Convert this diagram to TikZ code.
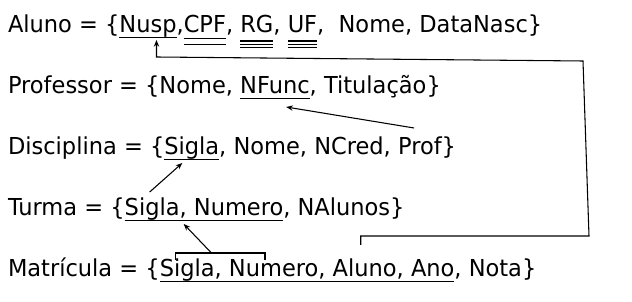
\documentclass[tikz,border=0pt]{standalone}
\usepackage{fontspec}
\setmainfont{DejaVu Sans}[FakeStretch=0.965]
\usetikzlibrary{arrows.meta,calc,positioning}

\begin{document}
\begin{tikzpicture}[
    x=0.75pt, y=-0.75pt,             % 1 unit = 1 px, y runs downwards
    >={Stealth[length=5pt,width=4pt]},
    font=\fontsize{17.5}{21}\selectfont,
    word/.style={inner sep=0pt,outer sep=0pt,anchor=base west},
    key/.style={line width=1.1pt},
    alt/.style={line width=0.9pt},
    link/.style={line width=0.8pt},
  ]
  \useasboundingbox (0,0) rectangle (632,302);
  \def\sep{,\ \null}

  %% ---------------- Aluno ----------------
  \node[word] (aluno) at (8,33) {Aluno = \{};
  \node[word] (nusp)  at (aluno.base east) {Nusp};
  \node[word] (a1)    at (nusp.base east)  {,};
  \node[word] (cpf)   at (a1.base east)    {CPF};
  \node[word] (a2)    at (cpf.base east)   {\sep};
  \node[word] (rg)    at (a2.base east)    {RG};
  \node[word] (a3)    at (rg.base east)    {\sep};
  \node[word] (uf)    at (a3.base east)    {UF};
  \node[word] (a4)    at (uf.base east)    {,\ \ Nome, DataNasc\}};

  \draw[key] ([shift={(0,4.7)}]nusp.base west) -- ([shift={(0,4.7)}]nusp.base east);
  \foreach \d in {5.3,11.3}
    \draw[alt] ([shift={(0,\d)}]cpf.base west) -- ([shift={(0,\d)}]cpf.base east);
  \foreach \w in {rg,uf}{\foreach \d in {8,11.3,14.7}
    \draw[alt] ([shift={(0,\d)}]\w.base west) -- ([shift={(0,\d)}]\w.base east);}

  %% ---------------- Professor ----------------
  \node[word] (prof)  at (8,94) {Professor = \{Nome\sep};
  \node[word] (nfunc) at (prof.base east)  {NFunc};
  \node[word] (p1)    at (nfunc.base east) {, Titulação\}};
  \draw[key] ([shift={(0,4.7)}]nfunc.base west) -- ([shift={(0,4.7)}]nfunc.base east);

  %% ---------------- Disciplina ----------------
  \node[word] (disc)  at (8,155) {Disciplina = \{};
  \node[word] (dsig)  at (disc.base east)  {Sigla};
  \node[word] (d1)    at (dsig.base east)  {, Nome, NCred\sep};
  \node[word] (dprof) at (d1.base east)    {Prof};
  \node[word] (d2)    at (dprof.base east) {\}};
  \draw[key] ([shift={(0,4.7)}]dsig.base west) -- ([shift={(0,4.7)}]dsig.base east);

  %% ---------------- Turma ----------------
  \node[word] (turma) at (8,216) {Turma = \{};
  \node[word] (tkey)  at (turma.base east) {Sigla, Numero};
  \node[word] (t1)    at (tkey.base east)  {, NAlunos\}};
  \draw[key] ([shift={(0,4.7)}]tkey.base west) -- ([shift={(0,4.7)}]tkey.base east);

  %% ---------------- Matricula ----------------
  \node[word] (matr)  at (8,277) {Matrícula = \{};
  \node[word] (msig)  at (matr.base east)  {Sigla};
  \node[word] (m1)    at (msig.base east)  {\sep};
  \node[word] (mnum)  at (m1.base east)    {Numero};
  \node[word] (m2)    at (mnum.base east)  {\sep};
  \node[word] (malu)  at (m2.base east)    {Aluno};
  \node[word] (m3)    at (malu.base east)  {\sep};
  \node[word] (mano)  at (m3.base east)    {Ano};
  \node[word] (m4)    at (mano.base east)  {, Nota\}};
  \draw[key] ([shift={(0,4.7)}]msig.base west) -- ([shift={(0,4.7)}]mano.base east);

  %% ---------------- foreign keys ----------------
  % Matricula.Aluno -> Aluno.Nusp, routed round the right side
  \coordinate (fkR) at (589,236);
  \coordinate (fkT) at (583,61);
  \draw[link,->] ([shift={(28,-32)}]malu.base west) |- (fkR) -- (fkT)
        -- ([shift={(37,24)}]nusp.base west) -- ([shift={(37,7)}]nusp.base west);
  % Disciplina.Prof -> Professor.NFunc
  \draw[link,->] ([shift={(16,-27)}]dprof.base west) -- ([shift={(46,13)}]nfunc.base west);
  % Turma.Sigla -> Disciplina.Sigla
  \draw[link,->] ([shift={(25,-24)}]tkey.base west) -- ([shift={(18,8)}]dsig.base west);
  % (Matricula.Sigla, Numero) -> Turma(Sigla, Numero)
  \coordinate (brL) at ([shift={(16,-24)}]msig.base west);
  \coordinate (brR) at ([shift={(36,-24)}]mnum.base west);
  \draw[link] ([shift={(0,7)}]brL) -- (brL) -- (brR) -- ([shift={(0,7)}]brR);
  \draw[link,->] ($(brL)!0.4!(brR)$) -- ([shift={(59,8)}]tkey.base west);
\end{tikzpicture}
\end{document}
